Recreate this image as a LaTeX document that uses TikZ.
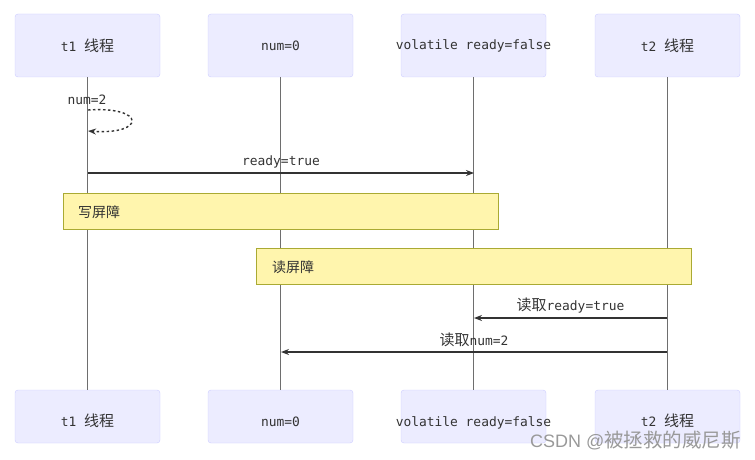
\documentclass[tikz,border=0pt]{standalone}
\usepackage{fontspec}
\newfontfamily\mono{DejaVu Sans Mono}
\newfontfamily\cjk{Noto Sans CJK SC}
\newfontfamily\wmsans{Liberation Sans}
\usetikzlibrary{arrows.meta}
\definecolor{actfill}{HTML}{ECECFF}
\definecolor{actdraw}{HTML}{CCCCFF}
\definecolor{notefill}{HTML}{FFF5AD}
\definecolor{notedraw}{HTML}{AAAA33}
\definecolor{txt}{HTML}{333333}
\definecolor{life}{HTML}{6E6E6E}
\definecolor{msg}{HTML}{333333}
\tikzset{
  actor/.style={draw=actdraw, fill=actfill, rounded corners=3pt, minimum width=145pt, minimum height=63pt, inner sep=0pt, text=txt, font=\mono\fontsize{12.9}{15}\selectfont},
  actorb/.style={actor, minimum height=53pt},
  lifeline/.style={draw=life, line width=1.3pt},
  msgline/.style={draw=msg, line width=1.4pt, -{Stealth[length=8pt,width=6pt]}},
  note/.style={draw=notedraw, fill=notefill, minimum width=435pt, minimum height=36pt, inner sep=0pt},
  notetext/.style={anchor=west, text=txt, font=\cjk\fontsize{14}{16}\selectfont, inner sep=0pt},
  msglabel/.style={text=txt, font=\mono\fontsize{12.9}{15}\selectfont, inner sep=0pt}
}
\newcommand{\cj}[1]{{\cjk\fontsize{15}{17}\selectfont #1}}
\newcommand{\toplab}[1]{\raisebox{-1pt}{\makebox[0pt]{#1}}}
\newcommand{\botlab}[1]{\raisebox{-10pt}[0pt][0pt]{\makebox[0pt]{#1}}}
\begin{document}
\begin{tikzpicture}[x=1pt,y=-1pt]
\useasboundingbox (0,0) rectangle (755,460);
% actors top
\node[actor] (t1top) at (87.5,45.5) {\toplab{t1 \cj{线程}}};
\node[actor] (numtop) at (280.5,45.5) {\toplab{num=0}};
\node[actor] (voltop) at (473.5,45.5) {\toplab{volatile ready=false}};
\node[actor] (t2top) at (667.5,45.5) {\toplab{t2 \cj{线程}}};
% actors bottom
\node[actorb] (t1bot) at (87.5,416.5) {\botlab{t1 \cj{线程}}};
\node[actorb] (numbot) at (280.5,416.5) {\botlab{num=0}};
\node[actorb] (volbot) at (473.5,416.5) {\botlab{volatile ready=false}};
\node[actorb] (t2bot) at (667.5,416.5) {\botlab{t2 \cj{线程}}};
% lifelines
\draw[lifeline] (t1top.south) -- (t1bot.north);
\draw[lifeline] (numtop.south) -- (numbot.north);
\draw[lifeline] (voltop.south) -- (volbot.north);
\draw[lifeline] (t2top.south) -- (t2bot.north);
% self message
\coordinate (s1) at (88,110);
\coordinate (s2) at (88,131);
\node[msglabel, anchor=center] (lnum2) at (87,100) {num=2};
\draw[msg, line width=1.4pt, dash pattern=on 2.5pt off 2.5pt, -{Stealth[length=8pt,width=6pt]}]
  (s1) .. controls (146,106) and (146,135) .. (s2);
% ready=true
\coordinate (m1a) at (88,173);
\coordinate (m1b) at (474,173);
\draw[msgline] (m1a) -- (m1b);
\node[msglabel] (lready) at (281,162) {ready=true};
% notes
\node[note] (wnote) at (280.5,211) {};
\node[notetext] (wtext) at (78,212) {写屏障};
\node[note] (rnote) at (473.5,266) {};
\node[notetext] (rtext) at (272,267) {读屏障};
% reads
\coordinate (m2a) at (667,318);
\coordinate (m2b) at (474,318);
\draw[msgline] (m2a) -- (m2b);
\node[msglabel] (lread1) at (570.5,306) {\cj{读取}ready=true};
\coordinate (m3a) at (667,352);
\coordinate (m3b) at (281,352);
\draw[msgline] (m3a) -- (m3b);
\node[msglabel] (lread2) at (474,340) {\cj{读取}num=2};
% watermark text
\node[anchor=east, inner sep=0pt, text=black!40] (wm) at (741,441)
  {\wmsans\fontsize{18}{20}\selectfont CSDN @{\cjk\fontsize{19.5}{21}\selectfont 被拯救的威尼斯}};
\end{tikzpicture}
\end{document}
